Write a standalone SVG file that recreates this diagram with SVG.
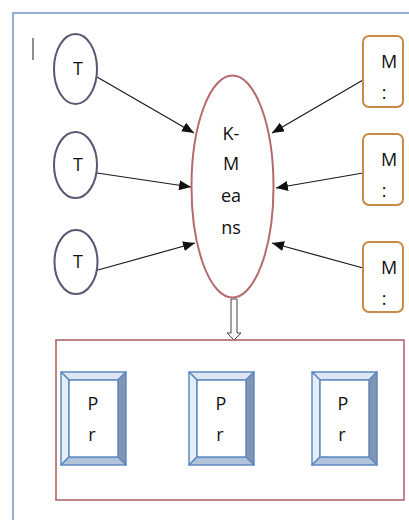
<svg xmlns="http://www.w3.org/2000/svg" xmlns:xlink="http://www.w3.org/1999/xlink" width="409" height="520" viewBox="0 0 409 520">
<style>
text{font-family:"Open Sans","Liberation Sans",sans-serif;font-size:18px;fill:#111;text-anchor:middle}
.t{fill:#fff;stroke:#5d5470;stroke-width:2}
.k{fill:#fff;stroke:#b56a6e;stroke-width:2}
.m{fill:#fff;stroke:#c98a45;stroke-width:2}
.c{stroke:#1a1a1a;stroke-width:1.2;fill:none;marker-end:url(#ah)}
.bv{stroke:#5f8ac4;stroke-width:1.5;stroke-linejoin:round}
</style>
<defs>
<marker id="ah" viewBox="0 0 12 10" refX="12" refY="5" markerWidth="12" markerHeight="10" markerUnits="userSpaceOnUse" orient="auto">
<path d="M0,0 L12,5 L0,10 z" fill="#111"/>
</marker>
<g id="bevel">
<polygon class="bv" points="0,0 65,0 57,8 8,8" fill="#dde7f3"/>
<polygon class="bv" points="0,0 8,8 8,85 0,93" fill="#e6edf7"/>
<polygon class="bv" points="65,0 65,93 57,85 57,8" fill="#8195b1"/>
<polygon class="bv" points="0,93 65,93 57,85 8,85" fill="#b2c3db"/>
<rect class="bv" x="8" y="8" width="49" height="77" fill="#fff"/>
</g>
</defs>
<rect x="0" y="0" width="409" height="520" fill="#fff"/>
<rect x="13" y="13" width="420" height="530" fill="none" stroke="#93afd8" stroke-width="2"/>
<line x1="33" y1="38" x2="33" y2="60" stroke="#444" stroke-width="1.2"/>

<g id="connectors">
<line class="c" x1="97" y1="77" x2="194" y2="133"/>
<line class="c" x1="97" y1="173" x2="191" y2="187"/>
<line class="c" x1="98" y1="270" x2="195" y2="243"/>
<line class="c" x1="363" y1="80" x2="272" y2="133"/>
<line class="c" x1="363" y1="173" x2="276" y2="188"/>
<line class="c" x1="363" y1="268" x2="272" y2="243"/>
<path d="M231,299 L237,299 L237,333 L241,333 L234,340 L227,333 L231,333 Z" fill="#fff" stroke="#444" stroke-width="1"/>
</g>

<g id="t1"><ellipse class="t" cx="75.5" cy="69" rx="21.5" ry="35"/><text x="78" y="75">T</text></g>
<g id="t2"><ellipse class="t" cx="75.5" cy="165" rx="21.5" ry="33"/><text x="78" y="171">T</text></g>
<g id="t3"><ellipse class="t" cx="76" cy="262" rx="21.5" ry="32"/><text x="78" y="268">T</text></g>

<g id="kmeans"><ellipse class="k" cx="232.5" cy="186.5" rx="41" ry="111"/>
<text x="231" y="140">K-</text><text x="231" y="170">M</text><text x="231" y="202">ea</text><text x="231" y="234">ns</text></g>

<g id="m1"><rect class="m" x="363" y="36" width="40" height="71" rx="6"/><text x="389" y="68">M</text><text x="384" y="99">:</text></g>
<g id="m2"><rect class="m" x="363" y="134" width="40" height="71" rx="6"/><text x="389" y="166">M</text><text x="384" y="197">:</text></g>
<g id="m3"><rect class="m" x="363" y="242" width="40" height="70" rx="6"/><text x="389" y="274">M</text><text x="384" y="305">:</text></g>

<g id="output"><rect x="56" y="340" width="348" height="160" fill="none" stroke="#a85c60" stroke-width="1.5"/></g>

<g id="pr1"><use xlink:href="#bevel" x="61" y="372"/><text x="93" y="410">P</text><text x="92" y="441">r</text></g>
<g id="pr2"><use xlink:href="#bevel" x="189" y="372"/><text x="221" y="410">P</text><text x="220" y="441">r</text></g>
<g id="pr3"><use xlink:href="#bevel" x="312" y="372"/><text x="343" y="410">P</text><text x="342" y="441">r</text></g>
</svg>
